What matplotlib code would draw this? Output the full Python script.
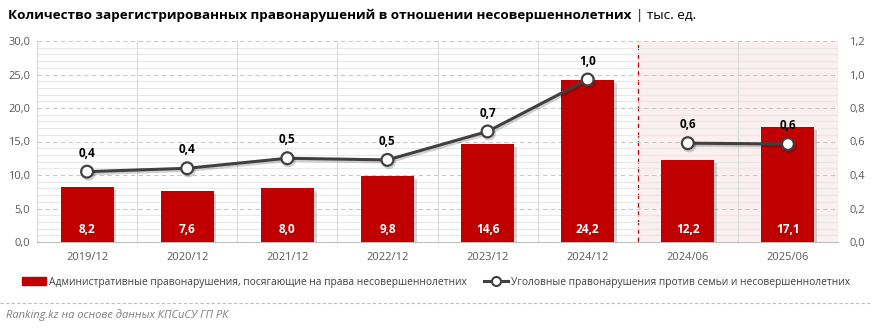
import numpy as np
import matplotlib.pyplot as plt
import matplotlib.patheffects as pe
from matplotlib.patches import Patch
from matplotlib.lines import Line2D

plt.rcParams['font.family'] = ['Open Sans', 'DejaVu Sans']

periods = ['2019/12', '2020/12', '2021/12', '2022/12', '2023/12', '2024/12', '2024/06', '2025/06']
admin = [8.2, 7.6, 8.0, 9.8, 14.6, 24.2, 12.2, 17.1]
criminal = [0.42, 0.44, 0.50, 0.49, 0.66, 0.97, 0.59, 0.585]

bar_color = '#C00000'
line_color = '#404040'
tick_color = '#595959'

admin_label = 'Административные правонарушения, посягающие на права несовершеннолетних'
criminal_label = 'Уголовные правонарушения против семьи и несовершеннолетних'


def fmt(v):
    return f'{v:.1f}'.replace('.', ',')


fig = plt.figure(figsize=(8.72, 3.28), dpi=100)
ax = fig.add_axes([37 / 872, 1 - 242 / 328, (838 - 37) / 872, (242 - 41) / 328])
ax2 = ax.twinx()

x = np.arange(len(periods))

# half-year block on the right
ax.axvspan(5.5, 7.5, color='#FBEFEF', zorder=0)
ax.axvline(5.5, color='#C00000', lw=0.9, ls=(0, (4, 3)), zorder=1)

ax.set_xlim(-0.5, 7.5)
ax.set_ylim(0, 30)
ax2.set_ylim(0, 1.2)

# grid
for y in np.arange(1, 30, 1):
    if y % 5:
        ax.axhline(y, color='#E8E8E8', lw=0.8, zorder=1)
for y in np.arange(5, 31, 5):
    ax.axhline(y, color='#C8C8C8', lw=0.8, ls=(0, (4, 3)), zorder=1)
for xv in np.arange(0.5, 5.5, 1):
    ax.axvline(xv, color='#D9D9D9', lw=0.8, zorder=1)
ax.axvline(6.5, color='#D9D9D9', lw=0.8, zorder=1)
ax.axvline(-0.5, color='#D9D9D9', lw=1, zorder=1)
ax.axvline(7.5, color='#D9D9D9', lw=1, zorder=1)

shadow = [pe.SimplePatchShadow(offset=(2, -2), shadow_rgbFace='#8a8a8a', alpha=0.35), pe.Normal()]
bars = ax.bar(x, admin, width=0.53, color=bar_color, zorder=3)
for b in bars:
    b.set_path_effects(shadow)
for xi, v in zip(x, admin):
    ax.text(xi, 1.9, fmt(v), ha='center', va='center', color='white',
            fontsize=8.5, fontweight='bold', zorder=5)

line_fx = [pe.SimpleLineShadow(offset=(1, -1.5), alpha=0.18), pe.Normal()]
for seg in (slice(0, 6), slice(6, 8)):
    ax2.plot(x[seg], criminal[seg], color=line_color, lw=2.2, marker='o', ms=8.5,
             mfc='white', mec=line_color, mew=1.6, zorder=4, path_effects=line_fx)
for xi, v in zip(x, criminal):
    ax2.text(xi, v + 0.11, fmt(v), ha='center', va='center', color='black',
             fontsize=8.5, fontweight='bold')

ax.set_zorder(1)
ax2.set_zorder(2)
ax.patch.set_visible(False)

ax.set_xticks(x)
ax.set_xticklabels(periods)
ax.set_yticks(np.arange(0, 31, 5))
ax.set_yticklabels([fmt(v) for v in np.arange(0, 31, 5)])
ax2.set_yticks(np.arange(0, 1.21, 0.2))
ax2.set_yticklabels([fmt(v) for v in np.arange(0, 1.21, 0.2)])
for a in (ax, ax2):
    a.tick_params(length=0, labelsize=8, colors=tick_color)
    for s in a.spines.values():
        s.set_visible(False)
ax.tick_params(axis='x', pad=7)
ax.tick_params(axis='y', pad=5)
ax2.tick_params(axis='y', pad=8)
ax.spines['bottom'].set_visible(True)
ax.spines['bottom'].set_color('#BFBFBF')

title = fig.text(8 / 872, 1 - 15 / 328,
                 'Количество зарегистрированных правонарушений в отношении несовершеннолетних',
                 fontsize=9.7, fontweight='bold', va='center', ha='left')
fig.canvas.draw()
tb = title.get_window_extent()
fig.text((tb.x1 + 5) / 872, 1 - 15 / 328, '| тыс. ед.', fontsize=9.7, va='center', ha='left')

handles = [Patch(color=bar_color),
           Line2D([], [], color=line_color, lw=2.2, marker='o', ms=6.5, mfc='white',
                  mec=line_color, mew=1.5)]
fig.legend(handles, [admin_label, criminal_label], loc='center',
           bbox_to_anchor=(0.5, 1 - 282 / 328), ncol=2, frameon=False, fontsize=7.4,
           labelcolor='#404040', handlelength=2.4, handleheight=0.7,
           handletextpad=0.3, columnspacing=1.6)

fig.add_artist(Line2D([0, 1], [1 - 303 / 328] * 2, color='#BFBFBF', lw=0.8, ls=(0, (3, 2))))
fig.text(6 / 872, 1 - 315 / 328, 'Ranking.kz на основе данных КПСиСУ ГП РК',
         fontsize=8, style='italic', color='#7F7F7F', va='center', ha='left')

fig.savefig('out.png', dpi=100)
